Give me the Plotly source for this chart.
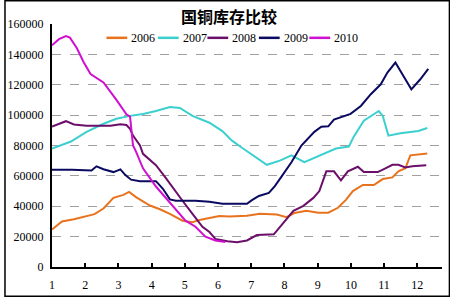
import plotly.graph_objects as go

# ---- data (month position, inventory in tonnes) ----
x_2006 = [1.00, 1.30, 1.66, 1.98, 2.28, 2.55, 2.85, 3.15, 3.32, 3.53, 3.95, 4.25, 4.55, 4.93, 5.23, 5.44, 5.74, 6.04, 6.34, 6.87, 7.26, 7.77, 8.06, 8.30, 8.66, 9.02, 9.32, 9.61, 9.85, 10.06, 10.36, 10.69, 10.96, 11.25, 11.43, 11.64, 11.79, 12.15, 12.30]
y_2006 = [24700, 30000, 31500, 33000, 34800, 38500, 45500, 47500, 49400, 46000, 40500, 38000, 35000, 30500, 29500, 31000, 32500, 33500, 33200, 33800, 35100, 34500, 32800, 35500, 37000, 35800, 35800, 39000, 44200, 50000, 54000, 54000, 57900, 59000, 63000, 65000, 73500, 74100, 74800]

x_2007 = [1.00, 1.57, 2.04, 2.34, 2.55, 2.94, 3.35, 3.74, 4.13, 4.55, 4.85, 5.23, 5.74, 6.13, 6.42, 6.72, 7.11, 7.47, 7.86, 8.21, 8.60, 9.05, 9.55, 9.94, 10.09, 10.39, 10.69, 10.84, 10.96, 11.13, 11.49, 12.03, 12.30]
y_2007 = [78000, 82600, 89000, 92400, 94300, 97600, 99500, 100800, 102700, 105400, 104700, 99500, 95000, 89500, 83200, 78500, 72800, 67300, 70000, 73500, 69000, 73500, 78000, 79300, 86000, 96300, 100800, 102700, 99500, 86500, 88000, 89500, 91500]

x_2008 = [1.00, 1.42, 1.66, 2.04, 2.76, 3.06, 3.24, 3.35, 3.44, 3.65, 3.74, 4.13, 4.43, 4.64, 4.93, 5.23, 5.53, 5.74, 5.92, 6.28, 6.57, 6.87, 7.17, 7.68, 7.97, 8.27, 8.57, 8.87, 9.05, 9.26, 9.49, 9.70, 9.91, 10.21, 10.39, 10.81, 11.04, 11.25, 11.43, 11.64, 11.85, 12.27]
y_2008 = [92500, 96000, 93800, 93000, 93000, 94000, 93500, 91000, 86500, 80000, 74500, 67000, 58500, 52000, 43600, 35000, 26500, 23000, 18500, 17000, 16300, 17500, 21000, 21500, 29300, 37000, 40300, 45500, 50000, 63000, 63000, 57000, 63000, 66000, 62500, 62500, 65000, 67300, 67300, 65500, 66300, 67000]

x_2009 = [1.00, 1.60, 2.19, 2.34, 2.55, 2.85, 3.06, 3.21, 3.38, 3.65, 4.13, 4.34, 4.55, 4.73, 5.32, 5.74, 6.13, 6.87, 7.02, 7.23, 7.53, 7.71, 7.91, 8.21, 8.51, 8.72, 8.90, 9.11, 9.32, 9.49, 9.70, 9.99, 10.30, 10.60, 10.90, 11.10, 11.34, 11.58, 11.82, 12.09, 12.33]
y_2009 = [64000, 64000, 63500, 66300, 64400, 62500, 64300, 60500, 57500, 56500, 56500, 51500, 44500, 43600, 43600, 43000, 41600, 41600, 44000, 46800, 48800, 53300, 59500, 69000, 80000, 84500, 89000, 92400, 92600, 97000, 98800, 100800, 106000, 113800, 120300, 128000, 134600, 125500, 117000, 123600, 130500]

x_2010 = [1.00, 1.21, 1.42, 1.54, 1.75, 1.95, 2.16, 2.55, 2.94, 3.24, 3.35, 3.44, 3.53, 3.74, 4.13, 4.43, 4.73, 5.02, 5.32, 5.62, 5.92, 6.22]
y_2010 = [146000, 150000, 152000, 151000, 144000, 135000, 127000, 121500, 110000, 100500, 99000, 80000, 76000, 65000, 53000, 45500, 37500, 30500, 26500, 20000, 17500, 16500]

series_names = ["2006", "2007", "2008", "2009", "2010"]
series_x = [x_2006, x_2007, x_2008, x_2009, x_2010]
series_y = [y_2006, y_2007, y_2008, y_2009, y_2010]
colors = ["#E8731E", "#3CCFCF", "#6B0F6B", "#0A0A60", "#D010D0"]

x_ticks = list(range(1, 13))
y_ticks = list(range(0, 160001, 20000))
title_text = "国铜库存比较"

# ---- layout geometry (pixels) ----
W, H = 450, 300
L, R, T, B = 48, 8, 24, 30
pw, ph = W - L - R, H - T - B

def px(xp):
    return (xp - L) / pw

def py(yp):
    return (H - B - yp) / ph

fig = go.Figure()
for name, xs, ys, c in zip(series_names, series_x, series_y, colors):
    fig.add_trace(go.Scatter(x=xs, y=ys, mode="lines", name=name,
                             line=dict(color=c, width=2), showlegend=False))

serif = "Liberation Serif"
shapes = []
annotations = []

# manual legend
leg_starts = [103, 155, 205, 257, 308]
leg_y = 38
for name, c, xs in zip(series_names, colors, leg_starts):
    shapes.append(dict(type="line", xref="paper", yref="paper",
                       x0=px(xs), x1=px(xs + 21), y0=py(leg_y), y1=py(leg_y),
                       line=dict(color=c, width=2.5)))
    annotations.append(dict(xref="paper", yref="paper", x=px(xs + 23), y=py(leg_y),
                            xanchor="left", yanchor="middle", text=name, showarrow=False,
                            font=dict(family=serif, size=12, color="black")))

# title
annotations.append(dict(xref="paper", yref="paper", x=px(227), y=py(16),
                        xanchor="center", yanchor="middle", text="<b>" + title_text + "</b>",
                        showarrow=False,
                        font=dict(family="Noto Sans CJK SC", size=16, color="black")))

# outer frame
shapes.append(dict(type="rect", xref="paper", yref="paper",
                   x0=px(0.5), x1=px(449.5), y0=py(299.5), y1=py(0.5),
                   line=dict(color="black", width=1.5)))

fig.update_layout(
    width=W, height=H,
    margin=dict(l=L, r=R, t=T, b=B),
    paper_bgcolor="white", plot_bgcolor="white",
    showlegend=False,
    shapes=shapes, annotations=annotations,
    xaxis=dict(range=[1, 1 + pw / 33.55], tickvals=x_ticks, ticktext=[str(v) for v in x_ticks],
               showgrid=False, zeroline=False, showline=True, linecolor="black", linewidth=2,
               ticks="inside", ticklen=4, tickcolor="black", tickwidth=1.5,
               tickfont=dict(family=serif, size=12, color="black"), ticklabelstandoff=6),
    yaxis=dict(range=[0, 160000], tickvals=y_ticks, ticktext=[str(v) for v in y_ticks],
               showgrid=True, gridcolor="#A0A0A0", griddash="dash", gridwidth=1,
               zeroline=False, showline=True, linecolor="black", linewidth=2,
               ticks="", tickfont=dict(family=serif, size=12, color="black"),
               ticklabelstandoff=4),
)

fig.write_html("out.html")
